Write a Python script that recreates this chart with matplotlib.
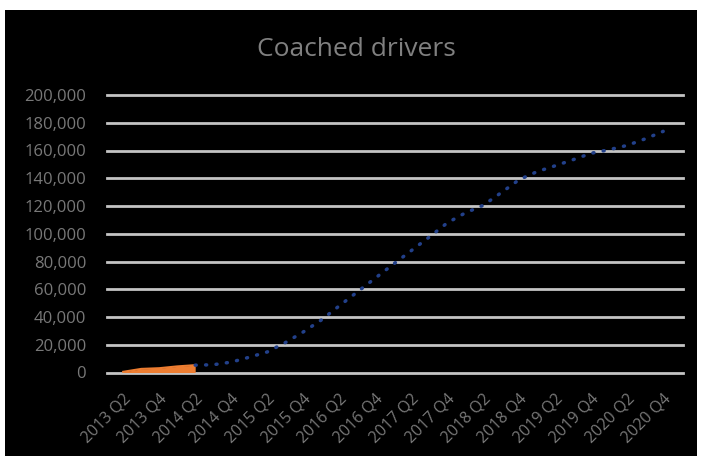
import numpy as np
import matplotlib.pyplot as plt
from matplotlib.patches import Rectangle
from matplotlib.ticker import FuncFormatter

plt.rcParams['font.family'] = ['Open Sans', 'DejaVu Sans']

quarters = [f'{y} Q{q}' for y in range(2013, 2021) for q in range(1, 5)][1:]

actual_idx = [0, 1, 2, 3, 4]
actual = [500, 2600, 3100, 4400, 5300]

forecast_idx = list(range(4, 31))
forecast = [5300, 5600, 7500, 11000, 14800, 21500, 29200, 37800, 48000, 58000,
            68000, 78000, 87800, 97600, 107800, 115000, 120500, 129600, 139000,
            144800, 149000, 153400, 158000, 160600, 163700, 168400, 173800]

fig = plt.figure(figsize=(7.01, 4.59), dpi=100)
fig.patch.set_facecolor('white')
# black chart area, thin white margin round it
fig.add_artist(Rectangle((5 / 701, 3 / 459), 692 / 701, 446 / 459,
                         transform=fig.transFigure, facecolor='black',
                         edgecolor='none', zorder=0))

ax = fig.add_axes([107 / 701, 1 - 372.5 / 459, 576 / 701, 277.5 / 459])
ax.set_facecolor('black')

ax.fill_between(actual_idx, 0, actual, color='#ed7d31', lw=0, zorder=3)
ax.plot(actual_idx, actual, color='#ed7d31', lw=1.5, zorder=3)
ax.plot(forecast_idx, forecast, color='#22408a', lw=2.5,
        linestyle=(0, (0.3, 2.7)), dash_capstyle='round', zorder=3)

ax.set_xlim(-0.9, 31.1)
ax.set_ylim(0, 200000)
ax.set_yticks(np.arange(0, 200001, 20000))
ax.yaxis.set_major_formatter(FuncFormatter(lambda v, p: f'{int(v):,}'))
ax.grid(axis='y', color='#c4c4c4', lw=2)
for gl in ax.get_ygridlines():
    gl.set_clip_on(False)
ax.set_axisbelow(True)

ticks = list(range(0, 31, 2))
ax.set_xticks(ticks)
ax.set_xticklabels([quarters[i] for i in ticks], rotation=45, ha='right',
                   va='top', rotation_mode='anchor')
for lab in ax.get_xticklabels():
    lab.set_fontsize(11.5)

ax.tick_params(axis='both', length=0, colors='#787878')
ax.tick_params(axis='y', pad=15, labelsize=12)
ax.tick_params(axis='x', pad=13)
for s in ax.spines.values():
    s.set_visible(False)

fig.text(356 / 701, 1 - 50 / 459, 'Coached drivers', color='#808080',
         fontsize=19, ha='center', va='center')

fig.savefig('out.png', dpi=100, facecolor=fig.get_facecolor())
